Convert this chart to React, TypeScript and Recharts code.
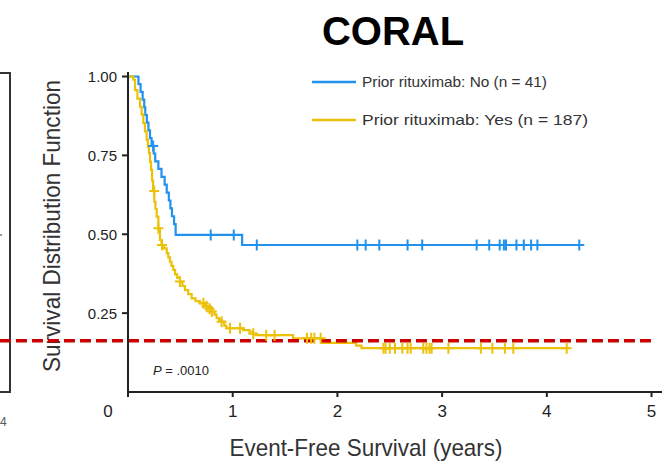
import React from "react";
import {
  ComposedChart,
  Line,
  XAxis,
  YAxis,
  ReferenceLine,
  Customized,
} from "recharts";

// ---------- data ----------
const chartTitle = "CORAL";
const xTicks = [0, 1, 2, 3, 4, 5];
const yTicks = [0.25, 0.5, 0.75, 1.0];
const xLabel = "Event-Free Survival (years)";
const yLabel = "Survival Distribution Function";
const pValueText = ".0010";
const thresholdValue = 0.1626;

const seriesNames = ["Prior rituximab: No (n = 41)", "Prior rituximab: Yes (n = 187)"];
const seriesColors = ["#2193EF", "#EBC10A"];
const legendWidths = [185, 226];

// Prior rituximab: No
const noTimes = [0, 0.10, 0.12, 0.14, 0.155, 0.165, 0.18, 0.195, 0.21, 0.225, 0.245, 0.26, 0.29, 0.32, 0.35, 0.37, 0.39, 0.405, 0.42, 0.44, 0.455, 1.09];
const noSurv = [1.0, 0.976, 0.951, 0.927, 0.902, 0.878, 0.854, 0.829, 0.805, 0.78, 0.756, 0.731, 0.707, 0.682, 0.657, 0.632, 0.607, 0.582, 0.557, 0.532, 0.498, 0.466];
const noCensor = [0.24, 0.79, 1.01, 1.23, 2.19, 2.27, 2.40, 2.67, 2.81, 3.33, 3.45, 3.55, 3.59, 3.61, 3.71, 3.78, 3.85, 3.91, 4.31];
const noEnd = 4.31;

// Prior rituximab: Yes
const yesTimes = [0, 0.05, 0.067, 0.09, 0.115, 0.13, 0.146, 0.162, 0.178, 0.19, 0.2, 0.21, 0.22, 0.23, 0.24, 0.251, 0.262, 0.274, 0.29, 0.305, 0.32, 0.345, 0.37, 0.385, 0.40, 0.415, 0.432, 0.45, 0.47, 0.496, 0.52, 0.544, 0.575, 0.608, 0.645, 0.687, 0.73, 0.77, 0.80, 0.825, 0.846, 0.87, 0.894, 0.92, 0.94, 1.10, 1.16, 1.19, 1.22, 1.577, 1.85, 2.18, 2.23];
const yesSurv = [1.0, 0.99, 0.957, 0.93, 0.904, 0.88, 0.852, 0.826, 0.799, 0.778, 0.757, 0.73, 0.704, 0.67, 0.637, 0.603, 0.58, 0.556, 0.519, 0.482, 0.466, 0.455, 0.44, 0.427, 0.413, 0.40, 0.387, 0.373, 0.362, 0.35, 0.336, 0.323, 0.31, 0.297, 0.288, 0.281, 0.272, 0.264, 0.255, 0.245, 0.234, 0.228, 0.223, 0.21, 0.202, 0.196, 0.191, 0.185, 0.18, 0.17, 0.156, 0.147, 0.139];
const yesCensor = [0.25, 0.29, 0.325, 0.496, 0.72, 0.75, 0.78, 0.80, 0.894, 0.974, 1.07, 1.196, 1.32, 1.40, 1.71, 1.75, 1.78, 1.84, 2.44, 2.46, 2.50, 2.55, 2.62, 2.67, 2.70, 2.82, 2.85, 2.88, 2.90, 3.06, 3.37, 3.48, 3.60, 3.68, 4.19];
const yesEnd = 4.22;

// ---------- build KM tables ----------
type Pt = { t: number; s: number; c: boolean };
function buildKM(times: number[], surv: number[], censor: number[], end: number): Pt[] {
  const lookup = (t: number) => {
    let v = surv[0];
    for (let i = 0; i < times.length; i++) if (times[i] <= t) v = surv[i];
    return v;
  };
  const pts: Pt[] = times.map((t, i) => ({ t, s: surv[i], c: false }));
  censor.forEach((t) => pts.push({ t, s: lookup(t), c: true }));
  if (!censor.includes(end)) pts.push({ t: end, s: lookup(end), c: false });
  pts.sort((a, b) => a.t - b.t || (a.c ? 1 : -1));
  return pts;
}
const noData = buildKM(noTimes, noSurv, noCensor, noEnd);
const yesData = buildKM(yesTimes, yesSurv, yesCensor, yesEnd);

const W = 667;
const H = 464;
const FONT = "'Liberation Sans', Arial, sans-serif";

const censorDot = (color: string) => (props: any) => {
  const { cx, cy, payload, index } = props;
  if (!payload || !payload.c || cx == null || cy == null) return <g key={`d${index}`} />;
  return (
    <path
      key={`d${index}`}
      d={`M${cx},${cy - 5.5}V${cy + 5.5}M${cx - 5},${cy}H${cx + 5}`}
      stroke={color}
      strokeWidth={2}
      fill="none"
    />
  );
};

const XTick = (props: any) => {
  const { x, y, payload } = props;
  const dx = payload.value === 0 ? -20 : 0;
  return (
    <text x={x + dx} y={y} dy="0.71em" textAnchor="middle" fontSize={17} fill="#222" fontFamily={FONT}>
      {payload.value}
    </text>
  );
};

const YTick = (props: any) => {
  const { x, y, payload } = props;
  return (
    <text x={x} y={y} dy="0.36em" textAnchor="end" fontSize={15} fill="#222" fontFamily={FONT}>
      {Number(payload.value).toFixed(2)}
    </text>
  );
};

const Decor = () => (
  <g>
    {/* fragment of neighbouring panel */}
    <path d="M0,73H10V392H0" stroke="#333" strokeWidth={2} fill="none" />
    <rect x={0} y={234} width={2} height={2} fill="#999" />
    <text x={0} y={426} fontSize={12} fill="#555" fontFamily={FONT}>4</text>
    <text x={393} y={45} textAnchor="middle" fontSize={40} fontWeight="bold" fill="#000" fontFamily={FONT}>
      {chartTitle}
    </text>
    <text
      x={0}
      y={0}
      transform="translate(60,226) rotate(-90)"
      textAnchor="middle"
      fontSize={24}
      fill="#333"
      fontFamily={FONT}
      textLength={292}
      lengthAdjust="spacingAndGlyphs"
    >
      {yLabel}
    </text>
    <text
      x={366}
      y={456}
      textAnchor="middle"
      fontSize={24}
      fill="#333"
      fontFamily={FONT}
      textLength={273}
      lengthAdjust="spacingAndGlyphs"
    >
      {xLabel}
    </text>
    <text x={153} y={375} fontSize={13} fill="#222" fontFamily={FONT}>
      <tspan fontStyle="italic">P</tspan>
      <tspan> = {pValueText}</tspan>
    </text>
    {/* legend */}
    {seriesNames.map((n, i) => (
      <g key={n}>
        <line x1={312} x2={356} y1={82 + i * 38} y2={82 + i * 38} stroke={seriesColors[i]} strokeWidth={2.5} />
        <text
          x={362}
          y={82 + i * 38}
          dy="0.36em"
          fontSize={15}
          fill="#333"
          fontFamily={FONT}
          textLength={legendWidths[i]}
          lengthAdjust="spacingAndGlyphs"
        >
          {n}
        </text>
      </g>
    ))}
  </g>
);

export default function App() {
  return (
    <div style={{ position: "absolute", left: 0, top: 0, width: W, height: H, background: "#fff" }}>
      <ComposedChart width={W} height={H} margin={{ top: 72, right: 5, bottom: 42, left: 60 }}>
        <XAxis
          type="number"
          dataKey="t"
          height={30}
          domain={[0, 5.1]}
          ticks={xTicks}
          tick={<XTick />}
          tickSize={5}
          tickMargin={8}
          axisLine={{ stroke: "#222", strokeWidth: 2 }}
          tickLine={{ stroke: "#222", strokeWidth: 2 }}
          allowDataOverflow
        />
        <YAxis
          type="number"
          dataKey="s"
          width={68}
          domain={[0, 1.0143]}
          ticks={yTicks}
          tick={<YTick />}
          tickSize={6}
          tickMargin={5}
          axisLine={{ stroke: "#222", strokeWidth: 2 }}
          tickLine={{ stroke: "#222", strokeWidth: 2 }}
          allowDataOverflow
        />
        <Line
          data={noData}
          dataKey="s"
          name={seriesNames[0]}
          type="stepAfter"
          stroke={seriesColors[0]}
          strokeWidth={2.2}
          dot={censorDot(seriesColors[0])}
          activeDot={false}
          isAnimationActive={false}
        />
        <Line
          data={yesData}
          dataKey="s"
          name={seriesNames[1]}
          type="stepAfter"
          stroke={seriesColors[1]}
          strokeWidth={2.2}
          dot={censorDot(seriesColors[1])}
          activeDot={false}
          isAnimationActive={false}
        />
        <ReferenceLine
          segment={[
            { x: -1.223, y: thresholdValue },
            { x: 5, y: thresholdValue },
          ]}
          stroke="#CC0000"
          strokeWidth={3.5}
          strokeDasharray="11 5"
          ifOverflow="visible"
        />
        <Customized component={Decor} />
      </ComposedChart>
    </div>
  );
}
